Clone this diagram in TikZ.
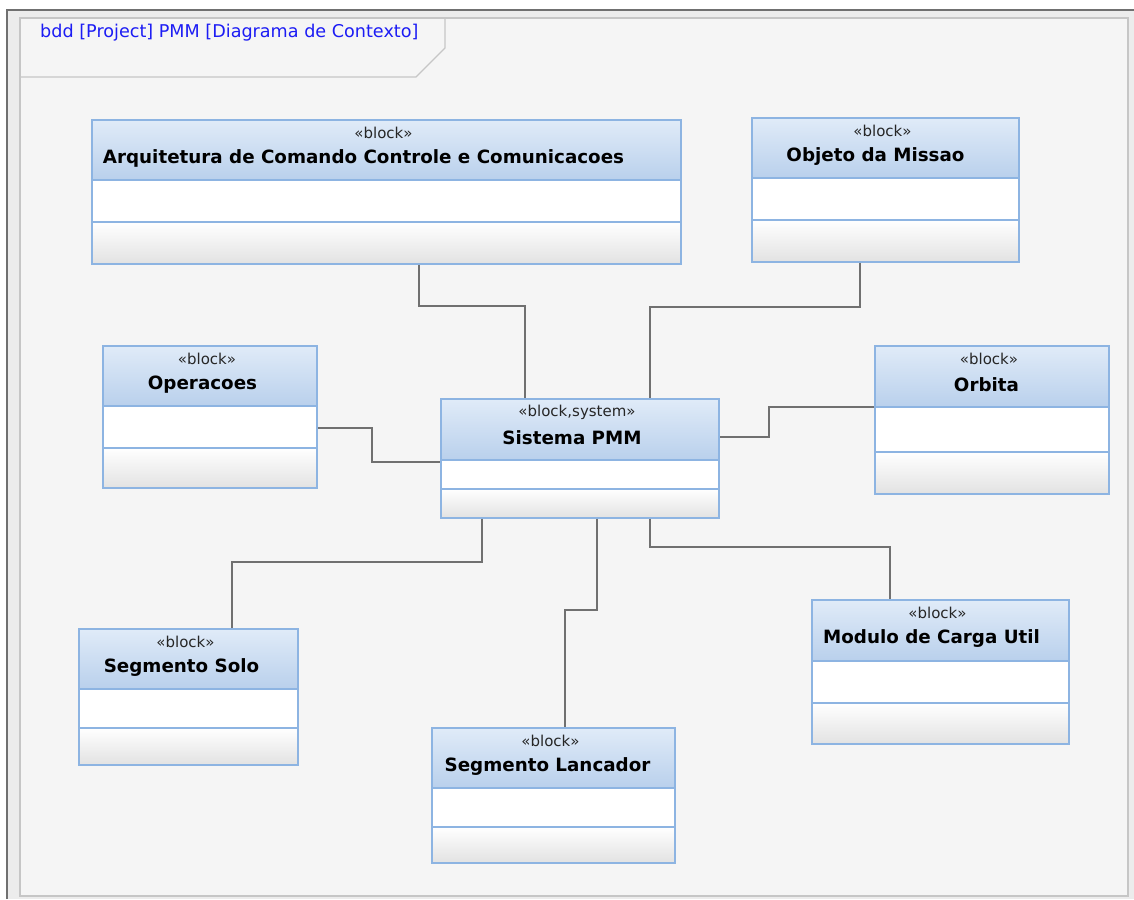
\documentclass[tikz,border=0pt]{standalone}
\usepackage{fontspec}
\setmainfont{DejaVu Sans}
\definecolor{outerbg}{HTML}{ECECEC}
\definecolor{outerline}{HTML}{707070}
\definecolor{framebg}{HTML}{F5F5F5}
\definecolor{frameline}{HTML}{C6C6C6}
\definecolor{blkline}{HTML}{8DB4E2}
\definecolor{headtop}{HTML}{E0EBF8}
\definecolor{headbot}{HTML}{B9D0EC}
\definecolor{compbot}{HTML}{E2E2E2}
\definecolor{connc}{HTML}{707070}
\definecolor{lblblue}{HTML}{1C1CF4}
\tikzset{
  blkborder/.style={draw=blkline, line width=1.4pt, inner sep=0pt, fill=none},
  stereo/.style={font=\fontsize{15}{16}\selectfont, text=black!85, inner sep=0pt},
  blkname/.style={font=\fontsize{18.3}{20}\selectfont\bfseries, text=black, inner sep=0pt},
  conn/.style={draw=connc, line width=1.3pt},
}
\def\tofs{-8}
% #1 name, #2 x1, #3 y1, #4 x2, #5 y2, #6 divider1, #7 divider2, #8 stereotype, #9 title
\newcommand\umlblk[9]{%
  \shade[top color=headtop, bottom color=headbot] (#2,#3) rectangle (#4,#6);
  \fill[white] (#2,#6) rectangle (#4,#7);
  \shade[top color=white, bottom color=compbot] (#2,#7) rectangle (#4,#5);
  \draw[blkline, line width=1.4pt] (#2,#6) -- (#4,#6) (#2,#7) -- (#4,#7);
  \node[blkborder, minimum width={(#4-#2)*1pt}, minimum height={(#5-#3)*1pt}] (#1) at ({(#2+#4)/2},{(#3+#5)/2}) {};
  \node[stereo] (#1-st) at ({(#2+#4)/2-3},{#3+13}) {#8};
  \node[blkname] (#1-nm) at ({(#2+#4)/2+\tofs},{#3+38.5}) {#9};
}
\begin{document}
\begin{tikzpicture}[x=1pt,y=-1pt]
\useasboundingbox (0,0) rectangle (1134,899);
% outer and frame
\fill[outerbg] (7,10) rectangle (1134,899);
\draw[outerline, line width=1.5pt] (7,899) -- (7,10) -- (1134,10);
\node[draw=frameline, fill=framebg, line width=1.3pt, minimum width=1108pt, minimum height=878pt, inner sep=0pt] (frame) at (574,457) {};
\draw[frameline, line width=1.3pt] (445,18) -- (445,48) -- (416,77) -- (20,77);
\node[anchor=west, text=lblblue, font=\fontsize{17.6}{19}\selectfont, inner sep=0pt] (title) at (40,32.5) {bdd [Project] PMM [Diagrama de Contexto]};
% blocks
\def\tofs{-23}
\umlblk{arq}{92}{120}{681}{264}{180}{222}{«block»}{Arquitetura de Comando Controle e Comunicacoes}
\def\tofs{-10}
\umlblk{obj}{752}{118}{1019}{262}{178}{220}{«block»}{Objeto da Missao}
\def\tofs{-7.5}
\umlblk{ope}{103}{346}{317}{488}{406}{448}{«block»}{Operacoes}
\def\tofs{-8}
\umlblk{sys}{441}{399}{719}{518}{460}{489}{«block,system»}{Sistema PMM}
\def\tofs{-5.5}
\umlblk{orb}{875}{346}{1109}{494}{407}{452}{«block»}{Orbita}
\def\tofs{-7}
\umlblk{sol}{79}{629}{298}{765}{689}{728}{«block»}{Segmento Solo}
\def\tofs{-6}
\umlblk{lan}{432}{728}{675}{863}{788}{827}{«block»}{Segmento Lancador}
\def\tofs{-9}
\umlblk{mod}{812}{600}{1069}{744}{661}{703}{«block»}{Modulo de Carga Util}
% connectors
\draw[conn] (arq.south -| 419,0) |- (525,306) -- (sys.north -| 525,0);
\draw[conn] (obj.south -| 860,0) |- (650,307) -- (sys.north -| 650,0);
\draw[conn] (ope.east |- 0,428) -| (372,462) -- (sys.west |- 0,462);
\draw[conn] (orb.west |- 0,407) -| (769,437) -- (sys.east |- 0,437);
\draw[conn] (sys.south -| 482,0) |- (232,562) -- (sol.north -| 232,0);
\draw[conn] (sys.south -| 597,0) |- (565,610) -- (lan.north -| 565,0);
\draw[conn] (sys.south -| 650,0) |- (890,547) -- (mod.north -| 890,0);
\end{tikzpicture}
\end{document}
